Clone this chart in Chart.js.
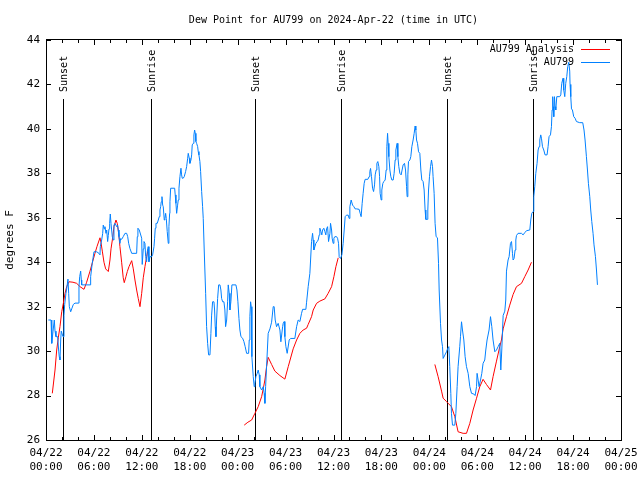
<!DOCTYPE html>
<html><head><meta charset="utf-8">
<script src="https://cdn.jsdelivr.net/npm/chart.js@4.4.1/dist/chart.umd.min.js"></script>
<style>html,body{margin:0;padding:0;background:#fff;}canvas{display:block;}</style>
</head><body>
<canvas id="c" width="640" height="480"></canvas>
<script>
// ---- data (hours since 2024-04-22 00:00 UTC, dew point in °F) ----
const chartTitle = 'Dew Point for AU799 on 2024-Apr-22 (time in UTC)';
const yAxisTitle = 'degrees F';
const seriesNames = ['AU799 Analysis', 'AU799'];
const seriesColors = ['#ff0000', '#0080ff'];

const xTickDates = ['04/22','04/22','04/22','04/22','04/23','04/23','04/23','04/23','04/24','04/24','04/24','04/24','04/25'];
const xTickTimes = ['00:00','06:00','12:00','18:00','00:00','06:00','12:00','18:00','00:00','06:00','12:00','18:00','00:00'];

const sunEventHours = [2.17, 13.1, 26.2, 36.96, 50.23, 60.99];
const sunEventLabels = ['Sunset','Sunrise','Sunset','Sunrise','Sunset','Sunrise'];

const analysisPoints = [
[0.79,28.1],[1.13,29.15],[1.34,30.05],[1.54,30.6],[1.75,31.1],[1.97,31.77],[2.17,32.15],[2.38,32.6],[2.59,32.9],[2.88,33.12],[3.38,33.1],[3.84,33.05],[4.26,32.9],[4.76,32.78],[5.09,33.1],[5.51,33.6],[6.13,34.4],[6.38,34.7],[6.76,35.1],[6.88,34.9],[7.05,34.5],[7.26,34.0],[7.47,33.7],[7.8,33.58],[8.01,34.1],[8.14,34.6],[8.35,35.1],[8.51,35.6],[8.76,35.9],[8.92,35.75],[9.1,35.3],[9.26,34.7],[9.47,34.0],[9.67,33.3],[9.8,33.08],[10.01,33.35],[10.18,33.58],[10.39,33.8],[10.73,34.07],[10.93,33.7],[11.14,33.2],[11.35,32.75],[11.55,32.37],[11.77,32.0],[11.98,32.6],[12.18,33.3],[12.39,33.8],[12.6,34.25],[12.8,34.6],[18,null],
[24.82,26.67],[25.28,26.8],[25.75,26.9],[26.16,27.2],[26.57,27.5],[27.0,27.95],[27.2,28.3],[27.41,28.7],[27.62,29.3],[27.82,29.72],[28.25,29.4],[28.66,29.1],[29.29,28.9],[29.91,28.74],[30.33,29.3],[30.95,30.1],[31.38,30.5],[31.79,30.8],[32.2,30.95],[32.63,31.03],[32.83,31.2],[33.25,31.55],[33.46,31.85],[33.88,32.15],[34.29,32.25],[34.92,32.35],[35.33,32.6],[35.76,32.9],[36.05,33.35],[36.3,33.8],[36.59,34.2],[42,null],
[48.69,29.4],[49.1,28.85],[49.53,28.2],[49.73,27.88],[50.15,27.73],[50.35,27.65],[50.77,27.5],[51.19,27.05],[51.6,26.37],[52.23,26.3],[52.65,26.3],[53.07,26.75],[53.48,27.35],[53.91,27.88],[54.32,28.4],[54.73,28.73],[55.15,28.5],[55.66,28.25],[55.98,28.85],[56.41,29.55],[56.82,30.2],[57.03,30.5],[57.24,31.0],[57.66,31.55],[58.07,32.07],[58.49,32.55],[58.91,32.9],[59.54,33.05],[59.95,33.35],[60.37,33.65],[60.79,34.0]
];

const observedPoints = [
[0.29,31.4],[0.63,31.4],[0.69,30.9],[0.75,30.35],[0.88,30.9],[1.04,31.4],[1.13,30.9],[1.25,30.65],[1.46,30.65],[1.59,30.0],[1.66,29.75],[1.75,29.6],[1.84,30.5],[1.91,30.9],[2.0,30.9],[2.13,30.65],[2.25,31.6],[2.34,32.1],[2.5,32.6],[2.59,32.8],[2.75,33.24],[2.84,32.6],[2.92,32.0],[3.09,31.77],[3.22,31.9],[3.42,32.1],[3.63,32.16],[4.04,32.16],[4.13,32.9],[4.22,33.35],[4.34,33.6],[4.42,33.2],[4.47,32.98],[5.51,32.98],[5.59,33.35],[5.79,33.95],[6.01,34.47],[6.35,34.47],[6.63,34.4],[6.76,34.33],[6.8,34.7],[6.97,35.0],[7.1,35.3],[7.17,35.67],[7.3,35.5],[7.38,35.6],[7.51,35.3],[7.6,35.45],[7.72,34.93],[7.8,35.2],[7.89,35.5],[7.97,35.75],[8.05,36.17],[8.14,35.75],[8.3,35.15],[8.42,35.0],[8.51,35.67],[8.64,35.75],[8.76,35.75],[8.85,35.6],[8.97,35.67],[9.05,35.45],[9.14,35.15],[9.26,34.85],[9.35,35.07],[9.47,35.03],[9.67,35.15],[9.89,35.3],[10.1,35.3],[10.23,35.15],[10.35,34.85],[10.51,34.62],[10.73,34.4],[11.35,34.4],[11.43,35.15],[11.51,35.53],[11.68,35.45],[11.77,35.45],[11.98,35.08],[12.05,33.9],[12.18,34.6],[12.27,34.93],[12.39,34.85],[12.48,34.25],[12.6,34.02],[12.68,34.47],[12.8,34.7],[12.89,34.02],[13.02,34.25],[13.23,34.25],[13.35,34.33],[13.52,34.7],[13.6,35.08],[13.68,35.53],[13.77,35.75],[13.93,35.75],[14.06,35.9],[14.18,36.05],[14.27,36.35],[14.36,36.5],[14.43,36.72],[14.52,36.95],[14.61,36.57],[14.68,36.5],[14.81,35.9],[14.89,35.97],[14.98,36.2],[15.06,35.97],[15.18,35.38],[15.31,34.85],[15.39,35.6],[15.48,36.2],[15.52,36.72],[15.61,37.33],[16.11,37.33],[16.18,37.03],[16.27,36.65],[16.36,36.2],[16.48,36.57],[16.56,36.8],[16.65,37.33],[16.77,37.85],[16.9,38.23],[16.98,37.93],[17.06,37.78],[17.18,37.78],[17.31,37.85],[17.48,38.08],[17.61,38.3],[17.74,38.68],[17.81,38.9],[17.94,38.68],[18.02,38.45],[18.15,38.6],[18.24,38.83],[18.31,39.28],[18.44,39.35],[18.52,39.73],[18.61,39.95],[18.69,39.8],[18.77,39.43],[18.86,39.35],[18.99,39.2],[19.06,38.98],[19.15,38.83],[19.27,38.53],[19.36,38.08],[19.49,37.18],[19.61,36.5],[19.69,35.97],[19.81,34.55],[19.99,32.6],[20.11,31.1],[20.24,30.35],[20.36,29.83],[20.53,29.83],[20.65,30.8],[20.74,31.62],[20.86,32.22],[21.03,32.22],[21.11,31.85],[21.19,31.1],[21.28,30.65],[21.36,31.4],[21.49,32.37],[21.62,32.98],[21.78,32.98],[21.9,32.75],[21.99,32.37],[22.12,32.22],[22.28,32.22],[22.4,31.85],[22.49,31.1],[22.62,31.4],[22.74,32.22],[22.82,32.98],[22.94,32.6],[23.03,31.85],[23.15,32.22],[23.28,32.98],[23.78,32.98],[23.91,32.75],[24.03,32.22],[24.16,31.47],[24.28,30.95],[24.41,30.65],[24.62,30.58],[24.78,30.43],[24.94,30.2],[25.12,29.9],[25.37,29.9],[25.45,30.5],[25.53,31.55],[25.62,32.22],[25.7,32.0],[25.78,29.75],[25.95,28.85],[26.07,28.4],[26.16,28.55],[26.28,28.85],[26.45,29.0],[26.57,29.15],[26.7,28.93],[26.78,28.4],[27.0,28.25],[27.2,28.4],[27.32,28.1],[27.41,27.65],[27.5,28.4],[27.62,29.3],[27.82,30.8],[28.04,31.0],[28.25,31.3],[28.45,32.0],[28.57,32.0],[28.7,31.4],[28.87,31.1],[29.07,31.25],[29.29,30.95],[29.41,30.42],[29.63,31.1],[29.7,31.25],[29.83,31.33],[29.91,30.65],[30.04,30.2],[30.2,29.9],[30.45,30.5],[30.63,30.57],[31.16,30.57],[31.38,31.1],[31.58,31.4],[31.79,31.33],[32.0,31.7],[32.13,31.88],[32.54,31.88],[32.63,32.2],[32.83,32.9],[33.04,33.5],[33.13,34.1],[33.25,34.93],[33.38,35.3],[33.46,35.0],[33.54,34.55],[33.67,34.7],[33.79,34.85],[33.96,34.93],[34.08,35.0],[34.21,35.23],[34.29,35.53],[34.42,35.38],[34.54,35.23],[34.63,35.45],[34.79,35.53],[34.92,35.38],[35.04,35.23],[35.13,35.5],[35.26,35.6],[35.38,34.93],[35.55,35.3],[35.63,35.75],[35.76,35.45],[35.83,35.08],[35.96,34.85],[36.05,35.08],[36.17,35.15],[36.38,35.15],[36.51,35.08],[36.63,34.85],[36.71,34.25],[36.88,34.17],[37.05,34.33],[37.21,34.85],[37.34,35.45],[37.46,36.05],[37.63,36.12],[37.84,36.12],[37.96,35.97],[38.05,36.5],[38.21,36.8],[38.39,36.57],[38.55,36.5],[38.71,36.4],[38.89,36.4],[39.21,36.38],[39.34,36.2],[39.46,36.05],[39.59,36.65],[39.71,37.1],[39.84,37.55],[39.96,37.73],[40.3,37.73],[40.46,37.85],[40.55,38.08],[40.64,38.22],[40.76,37.85],[40.89,37.33],[41.02,37.18],[41.14,37.48],[41.22,37.93],[41.34,38.15],[41.43,38.45],[41.55,38.53],[41.68,38.3],[41.77,37.85],[41.84,37.1],[41.97,36.8],[42.05,37.25],[42.18,37.55],[42.3,37.63],[42.47,37.7],[42.59,38.15],[42.68,39.2],[42.77,39.8],[42.84,39.35],[42.93,38.75],[43.06,38.15],[43.18,37.85],[43.31,37.7],[43.47,37.7],[43.59,38.0],[43.72,38.6],[43.81,39.05],[43.97,39.35],[44.06,38.75],[44.18,38.3],[44.31,38.0],[44.47,37.93],[44.59,38.15],[44.72,38.38],[44.89,38.45],[45.02,38.15],[45.15,37.4],[45.22,36.95],[45.31,37.93],[45.39,38.53],[45.56,38.6],[45.68,38.75],[45.81,39.2],[45.97,39.5],[46.1,39.8],[46.22,40.13],[46.31,39.95],[46.4,39.5],[46.52,39.35],[46.65,38.97],[46.81,38.9],[46.94,38.15],[47.06,37.7],[47.22,37.63],[47.35,37.25],[47.47,36.35],[47.56,35.93],[47.72,35.93],[47.81,36.35],[47.9,37.25],[48.02,37.85],[48.15,38.3],[48.27,38.6],[48.4,38.3],[48.47,37.85],[48.6,37.1],[48.72,35.75],[48.85,35.15],[49.02,35.1],[49.15,33.95],[49.23,32.75],[49.4,31.25],[49.53,30.5],[49.65,30.2],[49.73,29.67],[49.94,29.82],[50.15,29.97],[50.28,30.1],[50.44,30.2],[50.56,29.3],[50.69,28.1],[50.77,27.2],[50.9,26.67],[51.19,26.67],[51.32,27.2],[51.48,28.4],[51.6,29.3],[51.81,30.2],[51.9,30.65],[52.03,31.32],[52.15,30.95],[52.32,30.5],[52.48,29.75],[52.65,29.3],[52.86,29.0],[53.07,28.4],[53.28,28.1],[53.57,28.07],[53.73,28.0],[53.91,28.4],[53.98,29.0],[54.11,28.7],[54.23,28.4],[54.41,28.7],[54.57,29.0],[54.73,29.45],[54.94,29.6],[55.07,30.05],[55.23,30.5],[55.48,30.95],[55.66,31.55],[55.82,31.1],[55.98,30.5],[56.2,29.97],[56.41,30.05],[56.61,30.2],[56.82,30.35],[56.95,29.15],[57.07,30.05],[57.24,31.6],[57.45,31.8],[57.57,32.3],[57.66,33.6],[57.86,34.1],[57.99,34.25],[58.16,34.85],[58.29,34.93],[58.41,34.4],[58.49,34.1],[58.61,34.17],[58.74,34.55],[58.83,35.0],[58.91,35.2],[59.11,35.3],[59.54,35.3],[59.74,35.23],[59.95,35.33],[60.17,35.42],[60.58,35.45],[60.7,35.9],[60.83,36.2],[60.99,36.28],[61.08,36.95],[61.2,37.4],[61.33,38.0],[61.49,38.45],[61.62,39.05],[61.74,39.2],[61.83,39.5],[61.95,39.73],[62.04,39.58],[62.17,39.2],[62.33,39.05],[62.49,38.83],[62.74,38.83],[62.87,39.2],[62.99,39.65],[63.17,39.73],[63.29,40.1],[63.37,40.85],[63.45,41.45],[63.49,41.0],[63.58,40.55],[63.67,41.45],[63.74,41.0],[63.83,40.85],[63.96,41.45],[64.33,41.45],[64.46,41.53],[64.58,42.05],[64.74,42.28],[64.83,41.75],[64.96,41.45],[65.08,42.05],[65.21,42.35],[65.33,42.8],[65.46,43.0],[65.58,42.6],[65.62,42.0],[65.71,41.45],[65.8,40.9],[65.92,40.85],[66.08,40.55],[66.25,40.48],[66.42,40.33],[66.83,40.28],[67.21,40.28],[67.37,39.95],[67.5,39.5],[67.67,38.75],[67.8,38.15],[67.92,37.55],[68.09,36.95],[68.21,36.35],[68.34,35.83],[68.5,35.3],[68.62,34.78],[68.8,34.25],[68.93,33.65],[69.05,32.98]
];

const yMin = 26, yMax = 44, yStep = 2;
const xMin = 0, xMax = 72, xStep = 6, xMinorStep = 2;

// ---- drawing ----
const FONT = 'DejaVu Sans Mono';
const FONT_CSS = '11px "DejaVu Sans Mono"';
const TEXT_SX = 0.91; // narrow the glyphs to a 6px character cell

function drawText(ctx, text, x, y, align, rot) {
  ctx.save();
  ctx.translate(x, y);
  if (rot) ctx.rotate(rot);
  ctx.scale(TEXT_SX, 1);
  ctx.font = FONT_CSS;
  ctx.textAlign = align; ctx.textBaseline = 'middle';
  ctx.fillText(text, 0, 0);
  ctx.restore();
}

const gnuplotDecor = {
  id: 'gnuplotDecor',
  beforeDatasetsDraw(chart) {
    const {ctx, chartArea: a, scales: {x}} = chart;
    ctx.save();
    ctx.strokeStyle = '#000'; ctx.fillStyle = '#000'; ctx.lineWidth = 1;
    sunEventHours.forEach((h, i) => {
      const px = Math.round(x.getPixelForValue(h)) + 0.5;
      ctx.beginPath(); ctx.moveTo(px, a.top + 59); ctx.lineTo(px, a.bottom); ctx.stroke();
      drawText(ctx, sunEventLabels[i], px + 1, a.top + 52, 'left', -Math.PI / 2);
    });
    ctx.restore();
  },
  afterDraw(chart) {
    const {ctx, chartArea: a, scales: {x, y}} = chart;
    ctx.save();
    ctx.strokeStyle = '#000'; ctx.fillStyle = '#000'; ctx.lineWidth = 1;
    ctx.strokeRect(a.left + 0.5, a.top - 0.5, a.right - a.left, a.bottom - a.top + 1);
    ctx.beginPath();
    for (let v = xMin; v <= xMax; v += xMinorStep) {
      const len = (v % xStep === 0) ? 5 : 3;
      const px = Math.round(x.getPixelForValue(v)) + 0.5;
      ctx.moveTo(px, a.bottom); ctx.lineTo(px, a.bottom - len);
      ctx.moveTo(px, a.top); ctx.lineTo(px, a.top + len);
    }
    for (let v = yMin; v <= yMax; v += yStep) {
      const py = Math.round(y.getPixelForValue(v)) + 0.5;
      ctx.moveTo(a.left, py); ctx.lineTo(a.left + 5, py);
      ctx.moveTo(a.right, py); ctx.lineTo(a.right - 5, py);
    }
    ctx.stroke();
    drawText(ctx, chartTitle, (a.left + a.right) / 2, 20, 'center');
    chart.data.datasets.forEach((ds, i) => {
      const ly = 49 + 13 * i;
      ctx.fillStyle = '#000';
      drawText(ctx, ds.label, 574, ly, 'right');
      ctx.strokeStyle = ds.borderColor;
      ctx.beginPath(); ctx.moveTo(581, ly + 0.5); ctx.lineTo(610, ly + 0.5); ctx.stroke();
    });
    ctx.restore();
  }
};

const toXY = (pts) => pts.map(p => ({x: p[0], y: p[1]}));

new Chart(document.getElementById('c'), {
  type: 'line',
  data: {
    datasets: [
      {label: seriesNames[0], data: toXY(analysisPoints), borderColor: seriesColors[0], borderWidth: 1,
       pointRadius: 0, tension: 0, spanGaps: false, fill: false, order: 1},
      {label: seriesNames[1], data: toXY(observedPoints), borderColor: seriesColors[1], borderWidth: 1,
       pointRadius: 0, tension: 0, spanGaps: false, fill: false, order: 0}
    ]
  },
  options: {
    responsive: false,
    animation: false,
    devicePixelRatio: 1,
    layout: {padding: {top: 40, right: 19, left: 0, bottom: 0}},
    plugins: {legend: {display: false}, tooltip: {enabled: false}, title: {display: false}},
    scales: {
      x: {
        type: 'linear', min: xMin, max: xMax,
        grid: {display: false, drawTicks: false}, border: {display: false},
        ticks: {
          stepSize: xStep, autoSkip: false, maxRotation: 0, padding: 6, color: '#000',
          font: {family: FONT, size: 11, lineHeight: 1.27},
          callback: (v) => { const i = Math.round(v / xStep); return [xTickDates[i], xTickTimes[i]]; }
        },
        afterFit(s) { s.height = 40; s.paddingLeft = 0; s.paddingRight = 0; }
      },
      y: {
        min: yMin, max: yMax,
        grid: {display: false, drawTicks: false}, border: {display: false},
        ticks: {stepSize: yStep, padding: 6, color: '#000', font: {family: FONT, size: 11}},
        title: {display: true, text: yAxisTitle, color: '#000', font: {family: FONT, size: 11}, padding: {top: 4, bottom: 0}},
        afterFit(s) { s.width = 46; s.paddingTop = 0; s.paddingBottom = 0; }
      }
    }
  },
  plugins: [gnuplotDecor]
});
</script>
</body></html>
